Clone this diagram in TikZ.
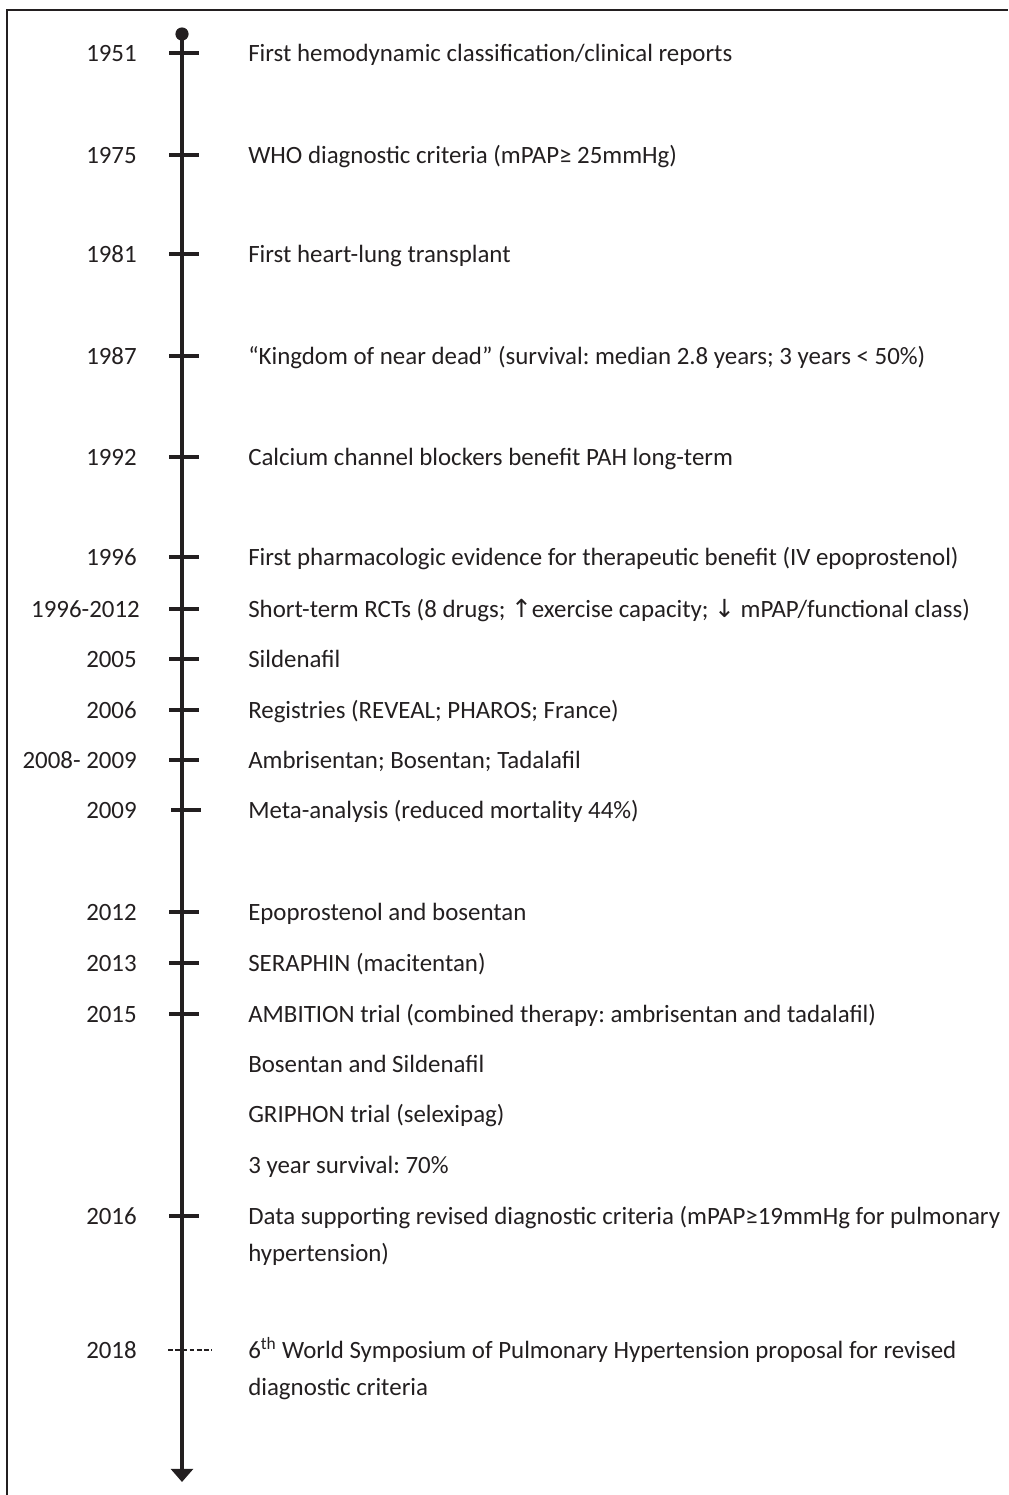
\documentclass[tikz,border=0pt]{standalone}
\usepackage{fontspec}
\setmainfont{Carlito}
\newfontfamily\arrowfont{DejaVu Sans}
\definecolor{inkgray}{HTML}{231F20}
\usetikzlibrary{arrows.meta, positioning}
\frenchspacing

\begin{document}
\begin{tikzpicture}[x=0.025cm, y=-0.025cm,
      year/.style={anchor=base east, inner sep=0pt, text=inkgray,
                   font=\fontsize{17.7}{26.3}\selectfont},
      event/.style={anchor=base west, inner sep=0pt, text=inkgray,
                    align=left, font=\fontsize{17.7}{26.3}\selectfont},
      dot/.style={circle, fill=inkgray, inner sep=0pt, minimum size=0.33cm},
      axis/.style={-{Triangle[width=0.55cm, length=0.33cm]}, line width=2.5pt, inkgray},
      tick/.style={line width=2.4pt, inkgray},
      dashtick/.style={line width=1.3pt, inkgray, dash pattern=on 3.5pt off 1.6pt},
      frame/.style={line width=1.8pt, inkgray}
    ]
      \useasboundingbox (0,0) rectangle (1008,1495);
      \draw[frame] (7,1495) -- (7,10) -- (1008,10);

      \node[dot] (origin) at (182,34) {};
      \coordinate (tip) at (182,1482);
      \draw[axis] (origin.center) -- (tip);

      \draw[tick] (169,53) -- (199,53);
      \node[year] (y1951) at (137,61) {1951};
      \node[event] (e1951) at (248,61) {First hemodynamic classification/clinical reports};

      \draw[tick] (169,155) -- (199,155);
      \node[year] (y1975) at (137,163) {1975};
      \node[event] (e1975) at (248,163) {WHO diagnostic criteria (mPAP≥ 25mmHg)};

      \draw[tick] (169,254) -- (199,254);
      \node[year] (y1981) at (137,262) {1981};
      \node[event] (e1981) at (248,262) {First heart-lung transplant};

      \draw[tick] (169,356) -- (199,356);
      \node[year] (y1987) at (137,364) {1987};
      \node[event] (e1987) at (248,364) {“Kingdom of near dead” (survival: median 2.8 years; 3 years < 50\%)};

      \draw[tick] (169,457) -- (199,457);
      \node[year] (y1992) at (137,465) {1992};
      \node[event] (e1992) at (248,465) {Calcium channel blockers benefit PAH long-term};

      \draw[tick] (169,557) -- (199,557);
      \node[year] (y1996) at (137,565) {1996};
      \node[event] (e1996) at (248,565) {First pharmacologic evidence for therapeutic benefit (IV epoprostenol)};

      \draw[tick] (169,609) -- (199,609);
      \node[year] (y1996b) at (140,617) {1996-2012};
      \node[event] (e1996b) at (248,617) {Short-term RCTs (8 drugs; {\arrowfont ↑}exercise capacity; {\arrowfont ↓} mPAP/functional class)};

      \draw[tick] (169,659) -- (199,659);
      \node[year] (y2005) at (137,667) {2005};
      \node[event] (e2005) at (248,667) {Sildenafil};

      \draw[tick] (169,710) -- (199,710);
      \node[year] (y2006) at (137,718) {2006};
      \node[event] (e2006) at (248,718) {Registries (REVEAL; PHAROS; France)};

      \draw[tick] (169,760) -- (199,760);
      \node[year] (y2008) at (137,768) {2008- 2009};
      \node[event] (e2008) at (248,768) {Ambrisentan; Bosentan; Tadalafil};

      \draw[tick] (171,810) -- (201,810);
      \node[year] (y2009) at (137,818) {2009};
      \node[event] (e2009) at (248,818) {Meta-analysis (reduced mortality 44\%)};

      \draw[tick] (169,912) -- (199,912);
      \node[year] (y2012) at (137,920) {2012};
      \node[event] (e2012) at (248,920) {Epoprostenol and bosentan};

      \draw[tick] (169,963) -- (199,963);
      \node[year] (y2013) at (137,971) {2013};
      \node[event] (e2013) at (248,971) {SERAPHIN (macitentan)};

      \draw[tick] (169,1014) -- (199,1014);
      \node[year] (y2015) at (137,1022) {2015};
      \node[event] (e2015) at (248,1022) {AMBITION trial (combined therapy: ambrisentan and tadalafil)};
      \node[event] (e2015b) at (248,1072) {Bosentan and Sildenafil};
      \node[event] (e2015c) at (248,1122) {GRIPHON trial (selexipag)};
      \node[event] (e2015d) at (248,1173) {3 year survival: 70\%};

      % two-line texts: base is on the last line
      \draw[tick] (169,1216) -- (199,1216);
      \node[year] (y2016) at (137,1224) {2016};
      \node[event] (e2016) at (248,1261) {Data supporting revised diagnostic criteria (mPAP≥19mmHg for pulmonary\\hypertension)};

      \draw[dashtick] (168,1350) -- (212,1350);
      \node[year] (y2018) at (137,1358) {2018};
      \node[event] (e2018) at (248,1395) {6\textsuperscript{th} World Symposium of Pulmonary Hypertension proposal for revised\\diagnostic criteria};
    \end{tikzpicture}
\end{document}
